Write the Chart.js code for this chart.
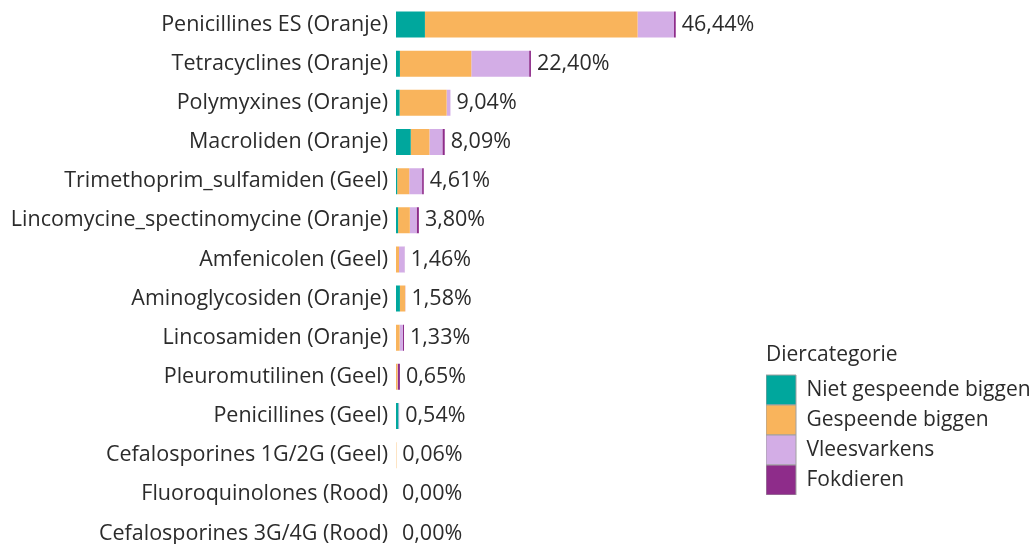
<!DOCTYPE html>
<html>
<head>
<meta charset="utf-8">
<script src="https://cdn.jsdelivr.net/npm/chart.js@4"></script>
<style>
  html, body { margin: 0; padding: 0; overflow: hidden; background: #fff; }
</style>
</head>
<body>
<canvas id="chart" width="1034" height="553"></canvas>
<script>
// categories (top to bottom)
const categories = [
  'Penicillines ES (Oranje)',
  'Tetracyclines (Oranje)',
  'Polymyxines (Oranje)',
  'Macroliden (Oranje)',
  'Trimethoprim_sulfamiden (Geel)',
  'Lincomycine_spectinomycine (Oranje)',
  'Amfenicolen (Geel)',
  'Aminoglycosiden (Oranje)',
  'Lincosamiden (Oranje)',
  'Pleuromutilinen (Geel)',
  'Penicillines (Geel)',
  'Cefalosporines 1G/2G (Geel)',
  'Fluoroquinolones (Rood)',
  'Cefalosporines 3G/4G (Rood)'
];

// share per animal category, in %
const nietGespeend = [4.8, 0.65, 0.6, 2.45, 0.2, 0.35, 0, 0.65, 0, 0, 0.4, 0, 0, 0];
const gespeend     = [35.3, 11.85, 7.8, 3.1, 2.0, 1.95, 0.5, 0.88, 0.6, 0.25, 0, 0.06, 0, 0];
const vleesvarkens = [6.05, 9.6, 0.64, 2.15, 2.13, 1.12, 0.93, 0.05, 0.55, 0.05, 0.14, 0, 0, 0];
const fokdieren    = [0.29, 0.3, 0, 0.39, 0.28, 0.38, 0.03, 0, 0.18, 0.35, 0, 0, 0, 0];

const seriesNames = ['Niet gespeende biggen', 'Gespeende biggen', 'Vleesvarkens', 'Fokdieren'];
const seriesColors = ['#00a79d', '#f9b45c', '#d3ade6', '#8e2c8a'];

const textColor = '#2b2b2b';
const font = { family: '"Open Sans", sans-serif', size: 21.5 };
const legendFont = { family: '"Open Sans", sans-serif', size: 21 };

// total at the end of each bar
const totalLabels = {
  id: 'totalLabels',
  afterDatasetsDraw(chart) {
    const { ctx, scales: { x, y } } = chart;
    ctx.save();
    ctx.font = '21.5px "Open Sans", sans-serif';
    ctx.fillStyle = textColor;
    ctx.textBaseline = 'middle';
    categories.forEach((c, i) => {
      const total = nietGespeend[i] + gespeend[i] + vleesvarkens[i] + fokdieren[i];
      const txt = total.toFixed(2).replace('.', ',') + '%';
      ctx.fillText(txt, x.getPixelForValue(total) + 6, y.getPixelForValue(i));
    });
    ctx.restore();
  }
};

// move the legend block down to the lower right
const legendSpot = {
  id: 'legendSpot',
  afterLayout(chart) {
    const lg = chart.legend;
    lg.left = 766;
    lg.bottom = 495;
  }
};

const ctx = document.getElementById('chart').getContext('2d');
new Chart(ctx, {
  type: 'bar',
  data: {
    labels: categories,
    datasets: [nietGespeend, gespeend, vleesvarkens, fokdieren].map((d, i) => ({
      label: seriesNames[i],
      data: d,
      backgroundColor: seriesColors[i],
      borderWidth: 0,
      barPercentage: 1,
      categoryPercentage: 0.665
    }))
  },
  options: {
    indexAxis: 'y',
    responsive: false,
    animation: false,
    layout: { padding: { top: 5, bottom: 0, left: 0, right: 0 } },
    scales: {
      x: { stacked: true, display: false, min: 0, max: 63 },
      y: {
        stacked: true,
        grid: { display: false, drawTicks: false },
        border: { display: false },
        ticks: { color: textColor, font: font, padding: 8 },
        afterFit(scale) {
          scale.width = 396;
          scale.paddingTop = 0;
          scale.paddingBottom = 0;
        }
      }
    },
    plugins: {
      tooltip: { enabled: false },
      legend: {
        position: 'right',
        align: 'end',
        title: {
          display: true,
          position: 'start',
          text: 'Diercategorie',
          color: textColor,
          font: legendFont,
          padding: { top: 0, bottom: 5 }
        },
        labels: {
          boxWidth: 30,
          boxHeight: 30,
          padding: 0,
          color: textColor,
          font: legendFont,
          generateLabels(chart) {
            const items = Chart.defaults.plugins.legend.labels.generateLabels(chart);
            items.forEach(it => { it.lineWidth = 1; it.strokeStyle = '#a0a0a0'; });
            return items;
          }
        }
      }
    }
  },
  plugins: [totalLabels, legendSpot]
});
</script>
</body>
</html>
